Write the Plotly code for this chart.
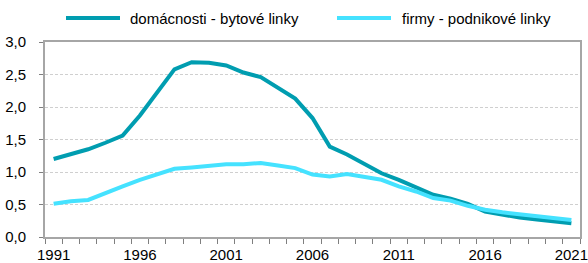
import plotly.graph_objects as go

years = list(range(1991, 2022))
domacnosti = [1.20, 1.27, 1.35, 1.45, 1.56, 1.87, 2.22, 2.58, 2.69, 2.68, 2.64, 2.53, 2.46, 2.29,
              2.13, 1.83, 1.39, 1.27, 1.12, 0.98, 0.88, 0.76, 0.65, 0.59, 0.51, 0.39, 0.34, 0.30,
              0.27, 0.24, 0.21]
firmy = [0.51, 0.55, 0.57, 0.68, 0.78, 0.88, 0.97, 1.05, 1.07, 1.09, 1.12, 1.12, 1.14, 1.10,
         1.06, 0.96, 0.93, 0.97, 0.92, 0.88, 0.78, 0.70, 0.60, 0.56, 0.48, 0.42, 0.38, 0.35,
         0.32, 0.29, 0.26]
label_years = [1991, 1996, 2001, 2006, 2011, 2016, 2021]
y_ticks = [0, 0.5, 1.0, 1.5, 2.0, 2.5, 3.0]
series_names = ["domácnosti - bytové linky", "firmy - podnikové linky"]
series_colors = ["#009DB0", "#45E2FF"]

fig = go.Figure()
for name, vals, col in zip(series_names, [domacnosti, firmy], series_colors):
    fig.add_trace(go.Scatter(x=years, y=vals, mode="lines", name=name,
                             line=dict(color=col, width=4), showlegend=False))

# manual legend (paper coords via pixel conversion)
W, H = 588, 263
ml, mr, mt, mb = 45, 8, 42, 26
pw, ph = W - ml - mr, H - mt - mb
def px(x):
    return (x - ml) / pw
def py(y):
    return (H - mb - y) / ph

legend_items = [(66, 120, 128), (337, 391, 400)]
for (x0, x1, xt), name, col in zip(legend_items, series_names, series_colors):
    fig.add_shape(type="line", xref="paper", yref="paper", x0=px(x0), x1=px(x1),
                  y0=py(18), y1=py(18), line=dict(color=col, width=4))
    fig.add_annotation(xref="paper", yref="paper", x=px(xt), y=py(18), text=name,
                       showarrow=False, xanchor="left", yanchor="middle",
                       font=dict(size=15))

fig.update_layout(
    width=W, height=H,
    margin=dict(l=ml, r=mr, t=mt, b=mb),
    paper_bgcolor="white", plot_bgcolor="white",
    separators=", ",
    font=dict(family="Liberation Sans, Arial, sans-serif", size=15, color="#000000"),
    showlegend=False,
    xaxis=dict(range=[1990.5, 2021.5], tickmode="array", tickvals=label_years,
               ticktext=[str(y) for y in label_years], ticks="", ticklen=0,
               ticklabelstandoff=3, ticklabeloverflow="allow",
               tickfont=dict(size=15), showgrid=False,
               showline=True, linecolor="#A6A6A6", linewidth=2, mirror=True,
               zeroline=False, automargin=False,
               minor=dict(tickmode="array", tickvals=[y - 0.5 for y in years] + [2021.5],
                          ticks="outside", ticklen=5, tickcolor="#7F7F7F", tickwidth=1,
                          showgrid=False)),
    yaxis=dict(range=[0, 3.0], tickmode="array", tickvals=y_ticks, tickformat=".1f",
               ticks="outside", ticklen=4, tickcolor="#7F7F7F", ticklabelstandoff=10,
               showgrid=True, gridcolor="#CFCFCF", griddash="3px,2px", gridwidth=1,
               showline=True, linecolor="#A6A6A6", linewidth=2, mirror=True,
               zeroline=False, automargin=False),
)
fig.write_html("out.html", config={"displayModeBar": False},
               post_script="document.body.style.margin='0';document.body.style.padding='0';")
